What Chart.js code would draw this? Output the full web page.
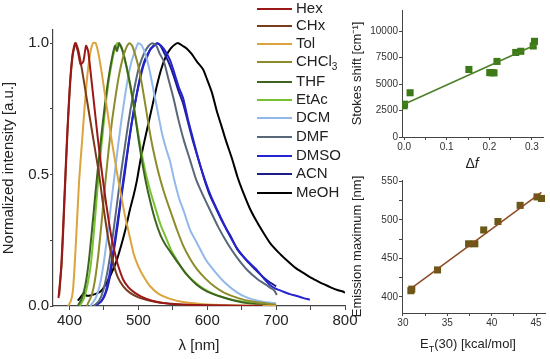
<!DOCTYPE html>
<html>
<head>
<meta charset="utf-8">
<script src="https://cdn.jsdelivr.net/npm/chart.js@4.4.0/dist/chart.umd.min.js"></script>
<style>
body{margin:0;background:#fff;width:550px;height:359px;position:relative;overflow:hidden;font-family:"Liberation Sans",Arial,sans-serif;color:#222;}
canvas{position:absolute;}
#cMain{left:0;top:0;}
#cStokes{left:350px;top:0;}
#cEm{left:350px;top:170px;}
.leg{position:absolute;left:257px;height:18px;line-height:18px;font-size:15px;white-space:nowrap;}
.leg span.ln{display:inline-block;width:35px;height:2px;vertical-align:middle;margin-right:4px;}
.ttl{position:absolute;font-size:13px;white-space:nowrap;transform:translate(-50%,-50%);}
</style>
</head>
<body>
<canvas id="cMain" width="360" height="359"></canvas>
<canvas id="cStokes" width="200" height="175"></canvas>
<canvas id="cEm" width="200" height="189"></canvas>
<div class="ttl" style="left:472px;top:163px;font-size:14px;">&Delta;<i>f</i></div>
<div class="ttl" style="left:468px;top:345px;">E<sub style="font-size:9px">T</sub>(30) [kcal/mol]</div>
<script>
// solvents, legend order
var solvents = ['Hex','CHx','Tol','CHCl3','THF','EtAc','DCM','DMF','DMSO','ACN','MeOH'];
var solventColors = ['#9a1818','#7a3c1c','#dba43c','#8c8c2c','#3f6422','#78c232','#93b9ea','#586878','#2424d0','#1c1c8c','#000000'];

// emission spectra, [lambda nm, normalized intensity]
var specHex = [[384,0.03],[388,0.15],[392,0.38],[396,0.62],[400,0.82],[404,0.95],[408,1.0],[412,0.97],[416,0.92],[420,0.93],[424,0.99],[427,0.97],[431,0.88],[436,0.76],[441,0.64],[446,0.53],[451,0.43],[456,0.34],[461,0.26],[466,0.2],[471,0.15],[478,0.1],[486,0.07],[495,0.05],[505,0.035],[520,0.02],[540,0.01],[570,0.005],[620,0.002],[680,0]];
var specCHx = [[385,0.04],[389,0.18],[393,0.42],[397,0.66],[401,0.85],[405,0.96],[409,1.0],[413,0.97],[418,0.9],[423,0.82],[428,0.74],[433,0.66],[438,0.58],[443,0.5],[448,0.4],[453,0.31],[458,0.23],[464,0.16],[470,0.11],[478,0.075],[488,0.05],[500,0.033],[517,0.02],[532,0.012],[565,0.005],[620,0.001],[680,0]];
var specTol = [[398,0.0],[402,0.02],[405,0.06],[408,0.18],[411,0.33],[414,0.48],[418,0.62],[422,0.76],[426,0.88],[430,0.96],[434,1.0],[438,1.0],[442,0.96],[446,0.9],[450,0.83],[455,0.74],[460,0.65],[465,0.57],[470,0.49],[475,0.42],[480,0.35],[486,0.28],[493,0.2],[500,0.15],[508,0.11],[517,0.075],[530,0.045],[545,0.028],[565,0.015],[600,0.006],[650,0.002],[700,0]];
var specCHCl3 = [[425,0.0],[432,0.04],[437,0.1],[442,0.2],[447,0.33],[452,0.47],[457,0.6],[462,0.71],[467,0.8],[472,0.88],[477,0.94],[482,0.98],[487,1.0],[491,0.99],[496,0.95],[501,0.9],[506,0.83],[511,0.75],[516,0.67],[521,0.6],[527,0.53],[533,0.47],[540,0.41],[548,0.35],[556,0.29],[565,0.23],[575,0.18],[585,0.14],[597,0.105],[610,0.075],[625,0.05],[645,0.03],[665,0.017],[690,0.008],[700,0.005]];
var specTHF = [[412,0.0],[418,0.03],[423,0.08],[428,0.17],[433,0.3],[438,0.44],[443,0.57],[448,0.69],[453,0.8],[458,0.89],[463,0.96],[466,0.99],[469,0.97],[472,1.0],[476,0.98],[481,0.93],[486,0.87],[491,0.8],[496,0.71],[501,0.62],[506,0.54],[511,0.47],[517,0.4],[524,0.33],[532,0.27],[540,0.23],[548,0.2],[556,0.17],[570,0.12],[585,0.08],[600,0.055],[620,0.035],[640,0.02],[660,0.01],[680,0.005],[700,0.002]];
var specEtAc = [[415,0.0],[421,0.03],[426,0.08],[431,0.16],[436,0.3],[441,0.46],[446,0.6],[451,0.73],[456,0.84],[461,0.92],[465,0.97],[469,1.0],[473,0.99],[477,0.97],[482,0.92],[487,0.85],[492,0.78],[497,0.7],[502,0.62],[507,0.55],[512,0.49],[518,0.43],[525,0.37],[532,0.31],[540,0.26],[548,0.21],[557,0.17],[567,0.13],[580,0.095],[595,0.065],[610,0.045],[630,0.028],[650,0.017],[670,0.01],[690,0.005]];
var specDCM = [[430,0.0],[438,0.03],[444,0.08],[450,0.17],[455,0.27],[460,0.38],[465,0.49],[470,0.6],[475,0.7],[480,0.79],[485,0.87],[490,0.93],[495,0.97],[500,1.0],[505,0.99],[510,0.96],[516,0.9],[522,0.82],[528,0.74],[534,0.66],[540,0.6],[546,0.55],[552,0.48],[559,0.41],[566,0.36],[575,0.29],[585,0.24],[597,0.18],[609,0.137],[625,0.09],[643,0.052],[660,0.03],[681,0.016],[700,0.01]];
var specDMF = [[435,0.0],[443,0.02],[449,0.06],[455,0.13],[460,0.21],[465,0.31],[470,0.41],[475,0.51],[480,0.6],[485,0.69],[490,0.77],[495,0.84],[500,0.9],[505,0.94],[510,0.97],[515,0.99],[520,1.0],[526,0.99],[531,0.96],[537,0.93],[544,0.86],[551,0.79],[558,0.71],[566,0.63],[575,0.555],[584,0.48],[594,0.42],[604,0.365],[616,0.3],[629,0.24],[643,0.185],[658,0.137],[674,0.1],[686,0.08],[691,0.07],[697,0.06],[701,0.042]];
var specDMSO = [[435,0.0],[445,0.015],[452,0.05],[458,0.12],[463,0.2],[468,0.29],[473,0.38],[478,0.48],[483,0.57],[488,0.66],[493,0.74],[498,0.81],[503,0.87],[508,0.92],[513,0.95],[518,0.98],[523,0.99],[528,1.0],[533,0.99],[539,0.97],[546,0.935],[553,0.88],[559,0.83],[565,0.79],[572,0.71],[580,0.63],[587,0.56],[594,0.5],[602,0.44],[610,0.39],[619,0.34],[630,0.28],[643,0.22],[657,0.175],[672,0.137],[682,0.105],[691,0.08],[700,0.065],[710,0.055],[720,0.045],[730,0.038],[740,0.03],[749,0.024]];
var specACN = [[437,0.0],[447,0.02],[454,0.06],[460,0.13],[465,0.22],[470,0.31],[475,0.41],[480,0.5],[485,0.6],[490,0.69],[495,0.77],[500,0.84],[505,0.9],[510,0.94],[516,0.97],[522,0.99],[527,1.0],[532,0.99],[538,0.96],[545,0.92],[552,0.87],[558,0.82],[565,0.77],[572,0.7],[580,0.62],[588,0.55],[596,0.48],[604,0.42],[613,0.37],[622,0.32],[633,0.27],[645,0.21],[660,0.165],[675,0.125],[688,0.095],[700,0.075]];
var specMeOH = [[412,0.02],[418,0.04],[421,0.05],[424,0.04],[430,0.04],[437,0.045],[445,0.055],[452,0.08],[460,0.12],[468,0.17],[475,0.23],[482,0.3],[488,0.37],[493,0.42],[498,0.48],[503,0.555],[509,0.63],[515,0.7],[521,0.77],[527,0.84],[533,0.9],[540,0.95],[547,0.98],[553,0.995],[558,1.0],[564,0.99],[570,0.98],[577,0.96],[585,0.93],[594,0.9],[600,0.86],[607,0.81],[614,0.74],[620,0.69],[627,0.63],[636,0.56],[644,0.49],[651,0.44],[662,0.37],[670,0.33],[680,0.285],[691,0.24],[703,0.205],[715,0.175],[728,0.145],[740,0.125],[749,0.11],[760,0.095],[770,0.082],[780,0.07],[790,0.06],[797,0.055],[800,0.05]];
var spectra = [specHex, specCHx, specTol, specCHCl3, specTHF, specEtAc, specDCM, specDMF, specDMSO, specACN, specMeOH];

var mainXTicks = [400,450,500,550,600,650,700,750,800];
var mainYTicks = [0,0.25,0.5,0.75,1.0];

// Stokes shift vs orientation polarizability
var stokesDf = [0.000,0.001,0.014,0.152,0.201,0.206,0.211,0.218,0.262,0.274,0.303,0.306];
var stokesShift = [2950,3100,4180,6380,6080,6080,6060,7140,7990,8100,8600,9040];
var stokesFitX = [0.0,0.314];
var stokesFitY = [3100,8810];
var stokesXTicks = [0,0.05,0.1,0.15,0.2,0.25,0.3];
var stokesYTicks = [0,1250,2500,3750,5000,6250,7500,8750,10000,11250];

// emission maximum vs ET(30)
var emET = [30.9,31.0,33.9,37.4,38.1,39.1,40.7,43.2,45.1,45.6];
var emMax = [408,410,435,469,469,487,498,519,530,528];
var emFitX = [30.7,45.6];
var emFitY = [409,536];
var emXTicks = [30,32.5,35,37.5,40,42.5,45];
var emYTicks = [400,425,450,475,500,525,550];

var FONT = '"Liberation Sans", Arial, sans-serif';
var AX = '#444';

function setTicks(arr){ return function(s){ s.ticks = arr.map(function(v){ return {value:v}; }); }; }
function isStep(v, step){ var q = v/step; return Math.abs(q - Math.round(q)) < 1e-6; }

// legend
var legY = [8,25,43,61,81,99,117,136,155,173,192];
solvents.forEach(function(name, i){
	var d = document.createElement('div');
	d.className = 'leg';
	d.style.top = (legY[i]-9) + 'px';
	var label = name.replace(/3$/, '<sub style="font-size:10px">3</sub>');
	d.innerHTML = '<span class="ln" style="background:' + solventColors[i] + '"></span>' + label;
	document.body.appendChild(d);
});

var mainSets = [];
spectra.forEach(function(sp, i){
	mainSets.push({
		label: solvents[i],
		data: sp.map(function(p){ return {x:p[0], y:p[1]}; }),
		borderColor: solventColors[i],
		borderWidth: 2,
		pointRadius: 0,
		showLine: true,
		fill: false,
		tension: 0.2
	});
});

new Chart(document.getElementById('cMain'), {
	type: 'scatter',
	data: { datasets: mainSets },
	options: {
		responsive: false, animation: false,
		layout: { padding: { top: 30, right: 15, left: 0, bottom: 0 } },
		plugins: { legend: { display: false }, tooltip: { enabled: false } },
		scales: {
			x: {
				type: 'linear', min: 376, max: 800,
				afterBuildTicks: setTicks(mainXTicks),
				afterFit: function(s){ s.height = 53; },
				grid: { drawOnChartArea: false, tickLength: 4, color: AX },
				border: { color: AX, width: 1.2 },
				ticks: { color: '#222', font: { family: FONT, size: 15 }, padding: 2,
					callback: function(v){ return isStep(v,100) ? v : ''; } },
				title: { display: true, text: 'λ [nm]', color: '#222', font: { family: FONT, size: 15 }, padding: { top: 0, bottom: 4 } }
			},
			y: {
				min: 0, max: 1.05,
				afterBuildTicks: setTicks(mainYTicks),
				afterFit: function(s){ s.width = 53; },
				grid: { drawOnChartArea: false, tickLength: 3, color: AX },
				border: { color: AX, width: 1.2 },
				ticks: { color: '#222', font: { family: FONT, size: 15 }, padding: 1,
					callback: function(v){ return isStep(v,0.5) ? v.toFixed(1) : ''; } },
				title: { display: true, text: 'Normalized intensity [a.u.]', color: '#222', font: { family: FONT, size: 15 }, padding: { top: 0, bottom: 4 } }
			}
		}
	}
});

function smallChart(id, pts, fit, ptColor, lineColor, sc){
	new Chart(document.getElementById(id), {
		type: 'scatter',
		data: { datasets: [
			{ data: fit, showLine: true, borderColor: lineColor, borderWidth: 1.5, pointRadius: 0 },
			{ data: pts, pointStyle: 'rect', pointRadius: 5, backgroundColor: ptColor, borderColor: ptColor, borderWidth: 0 }
		] },
		options: {
			responsive: false, animation: false,
			layout: { padding: sc.pad },
			plugins: { legend: { display: false }, tooltip: { enabled: false } },
			scales: {
				x: {
					type: 'linear', min: sc.xmin, max: sc.xmax,
					afterBuildTicks: setTicks(sc.xticks),
					afterFit: function(s){ s.height = sc.xh; },
					grid: { drawOnChartArea: false, tickLength: 3, color: AX },
					border: { color: AX, width: 1 },
					ticks: { color: '#333', font: { family: FONT, size: 10 }, padding: 1, callback: sc.xlab }
				},
				y: {
					min: sc.ymin, max: sc.ymax,
					afterBuildTicks: setTicks(sc.yticks),
					afterFit: function(s){ s.width = 52; },
					grid: { drawOnChartArea: false, tickLength: 3, color: AX },
					border: { color: AX, width: 1 },
					ticks: { color: '#333', font: { family: FONT, size: 10 }, padding: 1, callback: sc.ylab },
					title: { display: true, text: sc.ytitle, color: '#222', font: { family: FONT, size: 13 }, padding: { top: 0, bottom: 2 } }
				}
			}
		}
	});
}

smallChart('cStokes',
	stokesDf.map(function(v,i){ return {x:v, y:stokesShift[i]}; }),
	stokesFitX.map(function(v,i){ return {x:v, y:stokesFitY[i]}; }),
	'#3b7a16', '#4d7f27',
	{ pad: { top: 10, right: 7, left: 0, bottom: 0 }, xh: 38,
	  xmin: -0.005, xmax: 0.326, ymin: 0, ymax: 12000,
	  xticks: stokesXTicks, yticks: stokesYTicks,
	  xlab: function(v){ return isStep(v,0.1) ? v.toFixed(1) : ''; },
	  ylab: function(v){ return isStep(v,2500) ? v : ''; },
	  ytitle: 'Stokes shift [cm⁻¹]' });

smallChart('cEm',
	emET.map(function(v,i){ return {x:v, y:emMax[i]}; }),
	emFitX.map(function(v,i){ return {x:v, y:emFitY[i]}; }),
	'#6b5716', '#8b4c24',
	{ pad: { top: 10, right: 5, left: 0, bottom: 0 }, xh: 46,
	  xmin: 29.9, xmax: 46, ymin: 379, ymax: 552,
	  xticks: emXTicks, yticks: emYTicks,
	  xlab: function(v){ return isStep(v,5) ? v : ''; },
	  ylab: function(v){ return isStep(v,50) ? v : ''; },
	  ytitle: 'Emission maximum [nm]' });
</script>
</body>
</html>
